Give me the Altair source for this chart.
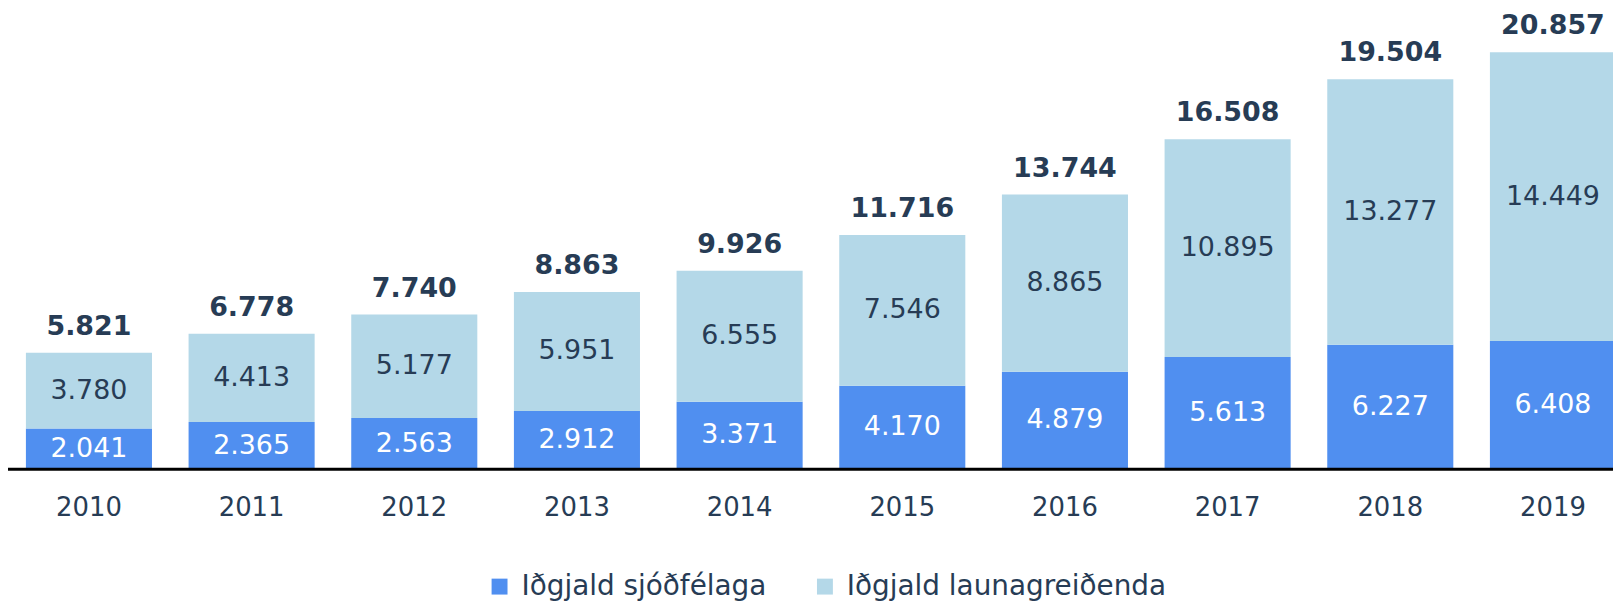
import altair as alt
import pandas as pd

years = ["2010", "2011", "2012", "2013", "2014", "2015", "2016", "2017", "2018", "2019"]
sjodfelaga = [2041, 2365, 2563, 2912, 3371, 4170, 4879, 5613, 6227, 6408]
launagreidenda = [3780, 4413, 5177, 5951, 6555, 7546, 8865, 10895, 13277, 14449]
totals = [5821, 6778, 7740, 8863, 9926, 11716, 13744, 16508, 19504, 20857]

S1 = "Iðgjald sjóðfélaga"
S2 = "Iðgjald launagreiðenda"

def fmt(v):
    return f"{v:,}".replace(",", ".")

rows = []
for y, a, b in zip(years, sjodfelaga, launagreidenda):
    rows.append({"year": y, "series": S1, "value": a, "ord": 0, "mid": a / 2, "label": fmt(a)})
    rows.append({"year": y, "series": S2, "value": b, "ord": 1, "mid": a + b / 2, "label": fmt(b)})
df = pd.DataFrame(rows)
tot = pd.DataFrame({"year": years, "total": totals, "label": [fmt(t) for t in totals]})
base = pd.DataFrame({"zero": [0]})

DARK = "#273c55"
C1 = "#508ff0"
C2 = "#b4d8e8"

xscale = alt.Scale(paddingInner=0.225, paddingOuter=0, range=[18, 1616], round=False)
xenc = alt.X("year:N", title=None, sort=years, scale=xscale,
             axis=alt.Axis(labelAngle=0, ticks=False, domain=False,
                           labelFont="DejaVu Sans", labelFontSize=26, labelColor=DARK,
                           labelPadding=26))
yscale = alt.Scale(domain=[0, 23000], nice=False)

bars = alt.Chart(df).mark_bar().encode(
    x=xenc,
    y=alt.Y("value:Q", stack="zero", scale=yscale, axis=None),
    color=alt.Color("series:N", scale=alt.Scale(domain=[S1, S2], range=[C1, C2]),
                    legend=alt.Legend(title=None, orient="none", legendX=480, legendY=566,
                                      direction="horizontal", symbolType="square",
                                      symbolSize=256, symbolStrokeWidth=0,
                                      labelFont="DejaVu Sans", labelFontSize=28,
                                      labelLimit=500,
                                      labelColor=DARK, columnPadding=44, labelOffset=8)),
    order=alt.Order("ord:Q", sort="ascending"),
)

inner = alt.Chart(df).mark_text(font="DejaVu Sans", fontSize=27, baseline="middle").encode(
    x=alt.X("year:N", sort=years, scale=xscale),
    y=alt.Y("mid:Q", scale=yscale),
    text="label:N",
    color=alt.Color("series:N", scale=alt.Scale(domain=[S1, S2], range=["#ffffff", DARK]), legend=None),
)

top = alt.Chart(tot).mark_text(font="DejaVu Sans", fontSize=27, fontWeight="bold",
                               baseline="alphabetic", dy=-18, color=DARK).encode(
    x=alt.X("year:N", sort=years, scale=xscale),
    y=alt.Y("total:Q", scale=yscale),
    text="label:N",
)

baseline = alt.Chart(base).mark_rule(color="#000000", strokeWidth=3).encode(
    x=alt.value(0), x2=alt.value(1613),
    y=alt.Y("zero:Q", scale=yscale),
)

chart = alt.layer(bars, inner, top, baseline).resolve_scale(color="independent").properties(
    width=1613, height=462,
    autosize=alt.AutoSizeParams(type="none"),
    padding={"left": 0, "top": 0, "right": 0, "bottom": 133},
).configure_view(stroke=None)

chart.save("out.html", embed_options={"renderer": "svg", "actions": False})
